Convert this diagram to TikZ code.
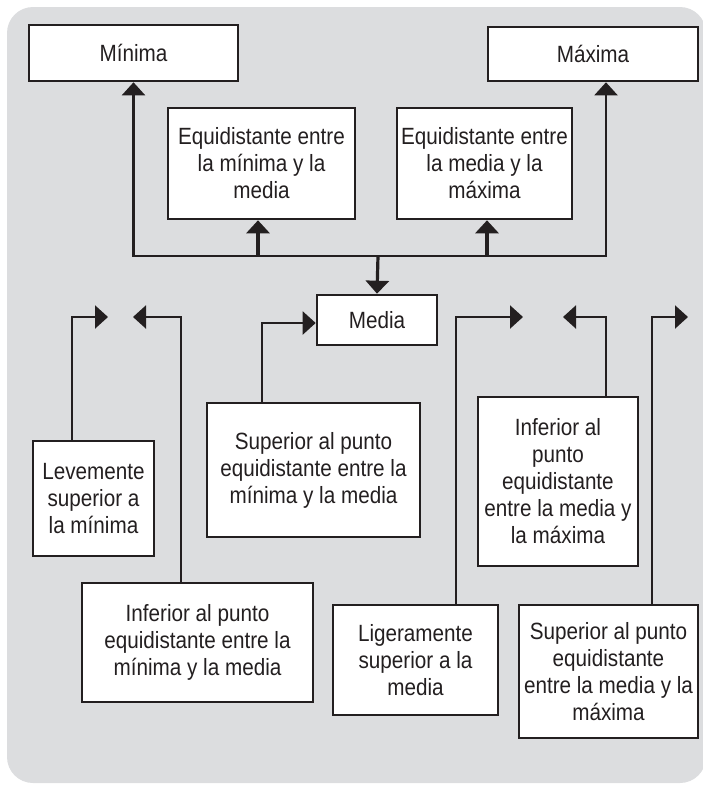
\documentclass[tikz,border=0pt]{standalone}
\usepackage{fontspec}
\setmainfont{Liberation Sans}[FakeStretch=0.88]
\usetikzlibrary{arrows.meta}
\definecolor{ink}{HTML}{231F20}
\definecolor{bggray}{HTML}{DCDDDF}
\tikzset{
  box/.style={draw=ink, line width=2.6pt, fill=white, text=ink, align=center,
    inner sep=0pt, font=\fontsize{23.5}{27}\selectfont},
  conn/.style={draw=ink, line width=2.2pt},
  thick conn/.style={draw=ink, line width=3.2pt},
  tip/.style={-{Triangle[width=23pt,length=13pt]}},
}
\begin{document}
\begin{tikzpicture}[x=1pt,y=-1pt]
\useasboundingbox (0,0) rectangle (702,785);
\fill[bggray, rounded corners=26pt] (7,7) rectangle (706,783);

% top row
\node[box, minimum width=209pt, minimum height=56pt] (min) at (133.5,53) {Mínima};
\node[box, minimum width=210pt, minimum height=54pt] (max) at (593,54) {Máxima};
\node[box, minimum width=187pt, minimum height=111pt] (eq1) at (261.5,163.5) {Equidistante entre\\la mínima y la\\media};
\node[box, minimum width=175pt, minimum height=111pt] (eq2) at (484.5,163.5) {Equidistante entre\\la media y la\\máxima};
\node[box, minimum width=120pt, minimum height=50pt] (media) at (377,320) {Media};

% lower boxes
\node[box, minimum width=121pt, minimum height=115pt] (lev) at (93.5,498.5) {Levemente\\superior a\\la mínima};
\node[box, minimum width=213pt, minimum height=134pt] (supmin) at (313.5,470) {Superior al punto\\equidistante entre la\\mínima y la media};
\node[box, minimum width=231pt, minimum height=119pt] (infmin) at (197.5,642.5) {Inferior al punto\\equidistante entre la\\mínima y la media};
\node[box, minimum width=165pt, minimum height=110pt] (lig) at (415.5,660) {Ligeramente\\superior a la\\media};
\node[box, minimum width=160pt, minimum height=169pt] (infmax) at (558,481.5) {Inferior al\\punto\\equidistante\\entre la media y\\la máxima};
\node[box, minimum width=179pt, minimum height=133pt] (supmax) at (608.5,671.5) {Superior al punto\\equidistante\\entre la media y la\\máxima};

% junction and free arrow tips
\coordinate (j) at (378,256);
\coordinate (t1) at (108,317);
\coordinate (t2) at (133,317);
\coordinate (t3) at (523,317);
\coordinate (t4) at (563,317);
\coordinate (t5) at (688,317);

% top tree
\draw[conn, tip] (j) -| (min.south);
\draw[conn, tip] (j) -| ([xshift=13pt]max.south);
\draw[thick conn, tip] ([xshift=-3.5pt]eq1.south |- j) -- ([xshift=-3.5pt]eq1.south);
\draw[thick conn, tip] ([xshift=2.5pt]eq2.south |- j) -- ([xshift=2.5pt]eq2.south);
\draw[thick conn, tip] (j) -- (media.north);

% lower connectors
\draw[conn, tip] ([xshift=-21.5pt]lev.north) |- (t1);
\draw[conn, tip] ([xshift=-16.5pt]infmin.north) |- (t2);
\draw[conn, tip] ([xshift=-51.5pt]supmin.north) |- ([yshift=-3pt]media.west);
\draw[conn, tip] ([xshift=40.5pt]lig.north) |- (t3);
\draw[conn, tip] ([xshift=48pt]infmax.north) |- (t4);
\draw[conn, tip] ([xshift=43.5pt]supmax.north) |- (t5);
\end{tikzpicture}
\end{document}
